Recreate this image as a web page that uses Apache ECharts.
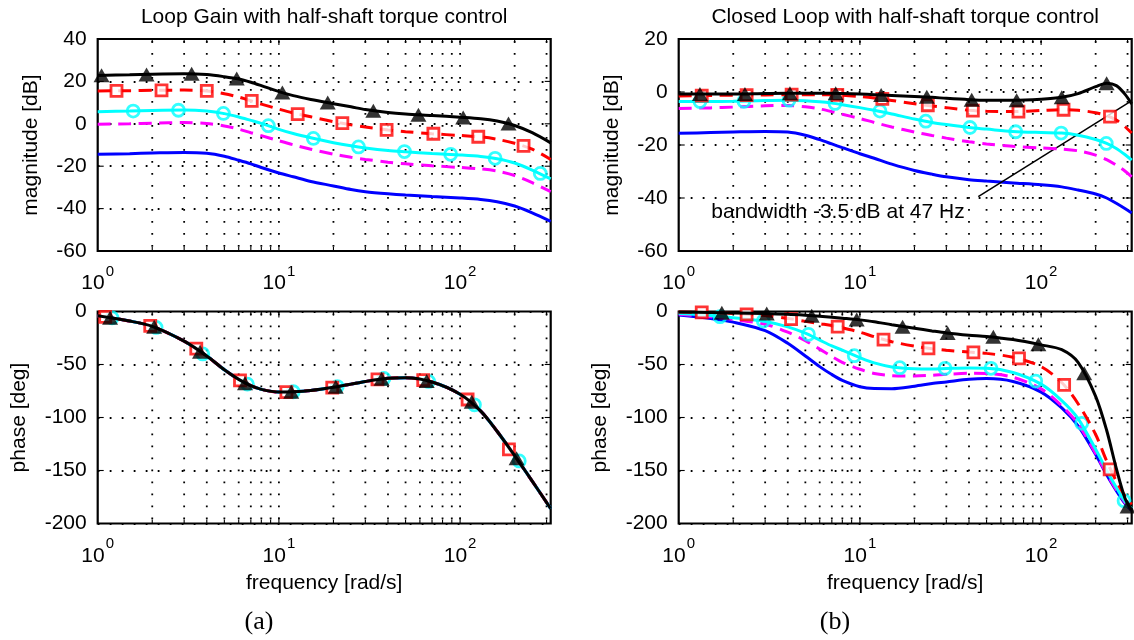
<!DOCTYPE html>
<html><head><meta charset="utf-8">
<script src="https://cdn.jsdelivr.net/npm/echarts@6/dist/echarts.min.js"></script>
<style>html,body{margin:0;padding:0;background:#fff}#c{width:1134px;height:640px}</style>
</head><body><div id="c"></div>
<script>
// ---------- data ----------
const freqA = [1, 1.5, 2, 3, 4, 5, 6, 7, 8, 10, 12, 15, 20, 25, 30, 40, 50, 70, 100, 130, 160, 200, 250, 316.2];
const freqB = [1, 1.5, 2, 3, 4, 5, 6, 7, 8, 10, 12, 15, 20, 25, 30, 40, 50, 70, 100, 130, 160, 200, 230, 260, 290, 316.2];

// (a) loop gain magnitude [dB]
const magA_black   = [22.8, 23.1, 23.4, 23.6, 23.2, 22.2, 21.1, 19.6, 18.0, 15.2, 13.3, 11.5, 9.5, 8.0, 6.7, 5.3, 4.6, 3.9, 3.1, 2.4, 1.3, -0.8, -4.2, -9.0];
const magA_red     = [15.5, 15.6, 15.8, 15.9, 15.5, 14.2, 12.6, 10.9, 9.3, 6.9, 5.1, 3.3, 1.0, -0.5, -1.5, -2.9, -3.7, -4.7, -5.5, -6.2, -7.3, -9.2, -12.0, -16.8];
const magA_cyan    = [5.7, 6.0, 6.3, 6.5, 6.0, 4.8, 3.2, 1.6, 0.2, -2.6, -4.6, -6.6, -8.9, -10.4, -11.4, -12.6, -13.2, -14.0, -14.7, -15.4, -16.5, -18.5, -21.8, -26.0];
const magA_magenta = [-0.2, 0.0, 0.3, 0.6, 0.1, -1.0, -2.5, -4.2, -5.6, -8.0, -9.9, -12.0, -14.3, -15.8, -16.8, -18.1, -18.9, -19.8, -20.6, -21.3, -22.3, -24.4, -27.8, -32.0];
const magA_blue    = [-14.4, -14.1, -13.8, -13.5, -13.9, -15.3, -17.2, -18.9, -20.6, -23.2, -25.0, -27.2, -29.3, -31.0, -32.0, -33.0, -33.6, -34.3, -35.0, -35.7, -36.8, -38.8, -42.0, -46.0];
// (a) loop gain phase [deg] (all five cases coincide)
const phaseA = [-4, -9, -14, -28, -42, -55, -64, -70, -73.5, -76, -75.7, -74.5, -71.5, -68.5, -66, -63, -62.5, -66.5, -78, -94, -113, -136, -160, -186];

// (b) closed loop magnitude [dB]
const magB_black   = [-0.8, -0.8, -0.8, -0.6, -0.5, -0.5, -0.5, -0.5, -0.6, -0.8, -1.0, -1.3, -1.7, -2.0, -2.4, -2.9, -3.1, -3.1, -2.7, -2.0, -0.6, 2.0, 3.3, 2.4, -0.8, -4.5];
const magB_red     = [-1.5, -1.3, -1.2, -1.1, -1.0, -1.0, -1.0, -1.1, -1.2, -1.7, -2.3, -3.2, -4.4, -5.3, -5.9, -6.9, -7.3, -7.4, -7.0, -6.7, -6.9, -7.8, -8.9, -10.6, -13.0, -15.5];
const magB_cyan    = [-3.6, -3.6, -3.5, -3.2, -3.1, -3.3, -3.7, -4.2, -4.8, -5.9, -6.9, -8.3, -10.2, -11.5, -12.3, -13.4, -14.0, -14.9, -15.3, -15.5, -16.3, -17.9, -19.4, -21.3, -23.6, -25.7];
const magB_magenta = [-6.2, -6.0, -5.7, -5.2, -5.1, -5.6, -6.4, -7.4, -8.4, -10.0, -11.5, -13.2, -15.1, -16.4, -17.4, -18.8, -19.6, -20.5, -21.1, -21.5, -22.2, -23.8, -25.5, -27.6, -29.8, -32.0];
const magB_blue    = [-15.6, -15.3, -15.1, -14.9, -15.1, -16.3, -18.0, -19.6, -21.0, -23.3, -25.0, -27.2, -29.6, -31.0, -32.0, -33.1, -33.6, -34.3, -35.0, -35.8, -37.0, -38.5, -40.0, -42.0, -44.0, -45.7];
// (b) closed loop phase [deg]
const phaseB_black   = [-0.5, -1.0, -1.4, -2.0, -2.7, -3.6, -4.5, -5.4, -6.3, -7.9, -9.6, -12.5, -15.8, -18.3, -20.2, -22.3, -23.5, -26.5, -31.5, -36, -48, -80, -112, -148, -176, -188];
const phaseB_red     = [-0.5, -1.0, -1.8, -3.8, -6.5, -9.3, -11.5, -13.3, -15.4, -19.5, -23.8, -28.5, -32.7, -35.2, -36.6, -38.2, -39.5, -43.2, -52, -67, -87, -116, -141, -160, -174, -182];
const phaseB_cyan    = [-2.0, -3.8, -5.8, -9.5, -14.5, -20.5, -27, -32.5, -36.5, -43.5, -48.5, -52.3, -54, -54.2, -53.8, -53.3, -53.5, -57.5, -68.5, -84, -101, -130, -150, -166, -179, -186];
const phaseB_magenta = [-2.7, -5, -7.5, -12, -19.5, -27.5, -35.5, -42.5, -48, -54.5, -58.5, -60.5, -60.8, -60.2, -59.3, -58.3, -58.5, -62, -73, -89, -106, -134, -153, -168, -180, -187];
const phaseB_blue    = [-3.3, -6.5, -10, -18, -30, -42, -52, -59.5, -65, -71, -72.7, -72.8, -70.5, -68, -66.5, -64, -63.3, -66, -76, -91, -108, -135, -154, -169, -181, -188];

// markers: frequency and value of each symbol
const mkA_black_f = [1.05, 1.86, 3.3, 5.85, 10.45, 18.6, 33.2, 58.9, 104, 185];
const mkA_black_v = [22.9, 23.3, 23.6, 21.4, 14.8, 10.0, 6.1, 4.3, 3.0, 0.1];
const mkA_red_f   = [1.27, 2.25, 4.0, 7.08, 12.7, 22.4, 39.3, 71.2, 126, 224];
const mkA_red_v   = [15.5, 15.8, 15.5, 10.8, 4.6, 0.3, -2.9, -4.7, -6.1, -10.4];
const mkA_cyan_f  = [1.57, 2.79, 4.94, 8.75, 15.5, 27.5, 49.3, 88.7, 156, 277];
const mkA_cyan_v  = [6.0, 6.4, 4.9, -0.9, -6.9, -10.9, -13.1, -14.4, -16.3, -23.4];

const mkPA_black_f = [1.17, 2.05, 3.67, 6.5, 11.7, 20.6, 36.9, 65.4, 116, 205];
const mkPA_black_v = [-5.8, -14.3, -37.9, -67.8, -75.6, -70.9, -63.5, -65.6, -85.1, -138.5];
const mkPA_red_f   = [1.1, 1.95, 3.5, 6.1, 11.0, 19.7, 35.0, 62.6, 110, 186];
const mkPA_red_v   = [-5.0, -13.5, -35.0, -65.0, -76.0, -71.8, -64.0, -64.8, -83.0, -130.0];
const mkPA_cyan_f  = [1.2, 2.1, 3.8, 6.7, 12.0, 21.0, 38.0, 67.0, 120, 212];
const mkPA_cyan_v  = [-6.0, -15.0, -40.0, -68.5, -75.7, -70.8, -63.2, -66.0, -88.0, -141.0];

const mkB_black_f = [1.31, 2.32, 4.11, 7.35, 13.1, 23.4, 41.4, 73.3, 130, 230];
const mkB_black_v = [-0.8, -0.8, -0.5, -0.5, -1.1, -1.8, -2.9, -3.1, -2.0, 3.3];
const mkB_red_f   = [1.34, 2.37, 4.2, 7.5, 13.3, 23.7, 42, 75, 133, 240];
const mkB_red_v   = [-1.4, -1.2, -1.0, -1.1, -2.6, -5.0, -7.0, -7.4, -6.7, -9.3];
const mkB_cyan_f  = [1.31, 2.29, 4.06, 7.29, 12.9, 23.1, 40.5, 72.4, 129, 229];
const mkB_cyan_v  = [-3.6, -3.5, -3.1, -4.3, -7.2, -11.0, -13.4, -15.0, -15.5, -19.4];

const mkPB_black_f = [1.73, 3.06, 5.42, 9.6, 17.2, 30.5, 54.5, 96.6, 173, 300];
const mkPB_black_v = [-1.2, -2.0, -4.0, -7.5, -14.3, -20.4, -23.8, -31.0, -58.3, -184];
const mkPB_red_f   = [1.34, 2.37, 4.17, 7.54, 13.5, 23.9, 42.3, 75.5, 134, 239];
const mkPB_red_v   = [-0.8, -2.7, -7.1, -14.3, -26.5, -34.7, -38.5, -44.2, -69.3, -149];
const mkPB_cyan_f  = [1.69, 2.93, 5.2, 9.31, 16.6, 29.5, 52.9, 93.4, 167.5, 287];
const mkPB_cyan_v  = [-4.9, -9.0, -21.5, -41.7, -53.0, -53.6, -53.6, -65.6, -105.5, -178.5];

// grid / tick positions
const gridFreqs = [2, 3, 4, 5, 6, 7, 8, 9, 10, 20, 30, 40, 50, 60, 70, 80, 90, 100, 200, 300];
const majorFreqs = [10, 100];
const magTicksA = [-60, -40, -20, 0, 20, 40];
const magTicksB = [-60, -40, -20, 0, 20];
const phaseTicks = [-200, -150, -100, -50, 0];

// annotation (b) magnitude
const annoFrom = [45, -39.5];
const annoTo = [309, -3.7];
const annoText = 'bandwidth -3.5 dB at 47 Hz';

const titles = ['Loop Gain with half-shaft torque control', 'Closed Loop with half-shaft torque control'];
const subLabels = ['(a)', '(b)'];

// ---------- chart ----------
const FONT = "'Liberation Sans', Arial, Helvetica, sans-serif";
const SERIF = "'Liberation Serif', 'Times New Roman', serif";
const FS = 21;
const COL = { black: '#000000', red: '#ff0000', cyan: '#00ffff', magenta: '#ff00ff', blue: '#0000ff' };
const XMAX = Math.pow(10, 2.5);

const L = [97.7, 678.7];
const TOPS = [39, 311.5];
const W = 453, H = 212;

const panels = [
  { gi: 0, left: L[0], top: TOPS[0], ymin: -60, ymax: 40, yint: 20, yname: 'magnitude [dB]', nameGap: 56, ticks: magTicksA, freq: freqA,
    curves: { blue: magA_blue, magenta: magA_magenta, cyan: magA_cyan, red: magA_red, black: magA_black },
    mk: { cyan: [mkA_cyan_f, mkA_cyan_v], red: [mkA_red_f, mkA_red_v], black: [mkA_black_f, mkA_black_v] } },
  { gi: 1, left: L[1], top: TOPS[0], ymin: -60, ymax: 20, yint: 20, yname: 'magnitude [dB]', nameGap: 56, ticks: magTicksB, freq: freqB,
    curves: { blue: magB_blue, magenta: magB_magenta, cyan: magB_cyan, red: magB_red, black: magB_black },
    mk: { cyan: [mkB_cyan_f, mkB_cyan_v], red: [mkB_red_f, mkB_red_v], black: [mkB_black_f, mkB_black_v] }, anno: true },
  { gi: 2, left: L[0], top: TOPS[1], ymin: -200, ymax: 0, yint: 50, yname: 'phase [deg]', nameGap: 68, ticks: phaseTicks, freq: freqA, xname: true,
    curves: { blue: phaseA, magenta: phaseA, cyan: phaseA, red: phaseA, black: phaseA },
    mk: { cyan: [mkPA_cyan_f, mkPA_cyan_v], red: [mkPA_red_f, mkPA_red_v], black: [mkPA_black_f, mkPA_black_v] } },
  { gi: 3, left: L[1], top: TOPS[1], ymin: -200, ymax: 0, yint: 50, yname: 'phase [deg]', nameGap: 68, ticks: phaseTicks, freq: freqB, xname: true,
    curves: { blue: phaseB_blue, magenta: phaseB_magenta, cyan: phaseB_cyan, red: phaseB_red, black: phaseB_black },
    mk: { cyan: [mkPB_cyan_f, mkPB_cyan_v], red: [mkPB_red_f, mkPB_red_v], black: [mkPB_black_f, mkPB_black_v] } }
];

function xLabel(v) {
  const e = Math.round(Math.log10(v));
  if (Math.abs(Math.pow(10, e) - v) < 1e-6 * v) return '{b|10}{s|' + e + '}';
  return '';
}

function xGridItem(params, api) {
  const cs = params.coordSys;
  const x = api.coord([api.value(0), api.value(1)])[0];
  const major = api.value(2) > 0;
  const top = cs.y, bot = cs.y + cs.height;
  const tl = major ? 6 : 4;
  return { type: 'group', children: [
    { type: 'line', shape: { x1: x, y1: top + 2, x2: x, y2: bot - 1 }, style: { stroke: '#000', lineWidth: 1.8, lineDash: [1.8, 10.2] } },
    { type: 'line', shape: { x1: x, y1: bot, x2: x, y2: bot - tl }, style: { stroke: '#000', lineWidth: 1.1 } },
    { type: 'line', shape: { x1: x, y1: top, x2: x, y2: top + tl }, style: { stroke: '#000', lineWidth: 1.1 } }
  ] };
}
function yTickItem(params, api) {
  const cs = params.coordSys;
  const y = api.coord([api.value(0), api.value(1)])[1];
  return { type: 'group', children: [
    { type: 'line', shape: { x1: cs.x, y1: y, x2: cs.x + 6, y2: y }, style: { stroke: '#000', lineWidth: 1.1 } },
    { type: 'line', shape: { x1: cs.x + cs.width, y1: y, x2: cs.x + cs.width - 6, y2: y }, style: { stroke: '#000', lineWidth: 1.1 } }
  ] };
}

const grids = [], xAxes = [], yAxes = [], series = [];
panels.forEach(p => {
  grids.push({ left: p.left, top: p.top, width: W, height: H, show: true, borderColor: '#000', borderWidth: 2.2, backgroundColor: '#fff', containLabel: false });
  xAxes.push({
    type: 'log', logBase: 10, min: 1, max: XMAX, gridIndex: p.gi,
    axisLine: { show: false }, axisTick: { show: false }, splitLine: { show: false }, minorTick: { show: false },
    axisLabel: { formatter: xLabel, margin: 13, color: '#000', showMaxLabel: false,
      rich: { b: { fontSize: FS, fontFamily: FONT, color: '#000', padding: [9, 0, 0, 0], verticalAlign: 'bottom' },
              s: { fontSize: 15, fontFamily: FONT, color: '#000', verticalAlign: 'top', padding: [0, 0, 0, 1] } } },
    name: p.xname ? 'frequency [rad/s]' : '', nameLocation: 'middle', nameGap: 49,
    nameTextStyle: { fontSize: FS, fontFamily: FONT, color: '#000' }
  });
  yAxes.push({
    type: 'value', min: p.ymin, max: p.ymax, interval: p.yint, gridIndex: p.gi,
    axisLine: { show: false }, axisTick: { show: false },
    splitLine: { show: true, lineStyle: { color: '#000', width: 1.8, type: [1.8, 10.2] } },
    axisLabel: { fontSize: FS, fontFamily: FONT, color: '#000', margin: 11 },
    name: p.yname, nameLocation: 'middle', nameGap: p.nameGap,
    nameTextStyle: { fontSize: FS, fontFamily: FONT, color: '#000' }
  });
  // grid dots + ticks
  series.push({ type: 'custom', xAxisIndex: p.gi, yAxisIndex: p.gi, silent: true, z: 1, clip: false,
    renderItem: xGridItem, data: gridFreqs.map(f => [f, p.ymin, majorFreqs.includes(f) ? 1 : 0]) });
  series.push({ type: 'custom', xAxisIndex: p.gi, yAxisIndex: p.gi, silent: true, z: 1, clip: false,
    renderItem: yTickItem, data: p.ticks.filter(t => t > p.ymin && t < p.ymax).map(t => [1, t]) });
  // curves
  const order = ['blue', 'magenta', 'cyan', 'red', 'black'];
  order.forEach((c, k) => {
    const dashed = (c === 'red' || c === 'magenta');
    const s = {
      type: 'line', name: c, xAxisIndex: p.gi, yAxisIndex: p.gi, silent: true, z: 3 + k * 2,
      showSymbol: false, symbol: 'none', smooth: 0.3, animation: false,
      lineStyle: { color: COL[c], width: 3, type: dashed ? [13, 7.5] : 'solid', cap: 'butt' },
      data: p.freq.map((f, i) => [f, p.curves[c][i]])
    };
    if (p.anno && c === 'blue') {
      s.markLine = { silent: true, symbol: ['none', 'none'], animation: false, label: { show: false },
        lineStyle: { color: '#000', width: 1.5, type: 'solid' },
        data: [[{ coord: annoFrom }, { coord: annoTo }]] };
    }
    series.push(s);
    if (p.mk[c]) {
      const [mf, mv] = p.mk[c];
      const sym = c === 'black' ? { symbol: 'triangle', symbolSize: [16, 14], itemStyle: { color: '#000' } }
        : c === 'red' ? { symbol: 'rect', symbolSize: 11, itemStyle: { color: '#fff', borderColor: COL.red, borderWidth: 2.8 } }
        : { symbol: 'circle', symbolSize: 12, itemStyle: { color: 'rgba(255,255,255,0)', borderColor: COL.cyan, borderWidth: 2.8 } };
      series.push(Object.assign({ type: 'scatter', xAxisIndex: p.gi, yAxisIndex: p.gi, silent: true, z: 4 + k * 2, animation: false,
        data: mf.map((f, i) => [f, mv[i]]) }, sym));
    }
  });
});

const graphics = [
  { type: 'text', x: L[0] + W / 2, y: 17, style: { text: titles[0], fontSize: FS, fontFamily: FONT, fill: '#000', align: 'center', verticalAlign: 'middle' } },
  { type: 'text', x: L[1] + W / 2, y: 17, style: { text: titles[1], fontSize: FS, fontFamily: FONT, fill: '#000', align: 'center', verticalAlign: 'middle' } },
  { type: 'text', x: 838, y: 212, z: 50, style: { text: annoText, fontSize: FS, fontFamily: FONT, fill: '#000', align: 'center', verticalAlign: 'middle' } },
  { type: 'text', x: 259, y: 622, style: { text: subLabels[0], fontSize: 26, fontFamily: SERIF, fill: '#000', align: 'center', verticalAlign: 'middle' } },
  { type: 'text', x: 835, y: 622, style: { text: subLabels[1], fontSize: 26, fontFamily: SERIF, fill: '#000', align: 'center', verticalAlign: 'middle' } }
];

const chart = echarts.init(document.getElementById('c'), null, { renderer: 'canvas' });
chart.setOption({
  backgroundColor: '#fff', animation: false,
  grid: grids, xAxis: xAxes, yAxis: yAxes, series: series, graphic: graphics
});
</script>
</body></html>
